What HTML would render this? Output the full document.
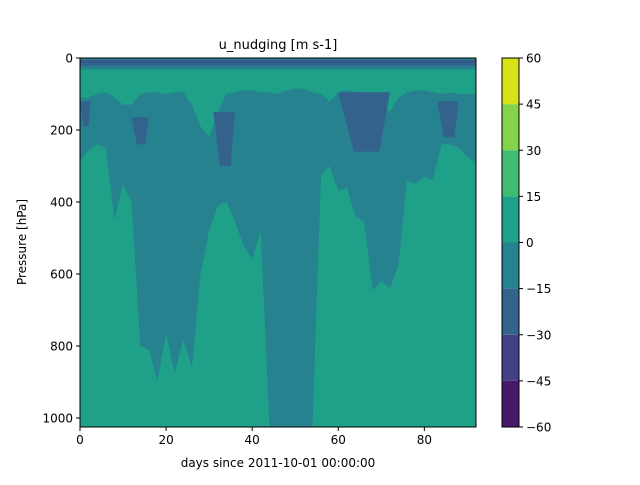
<!DOCTYPE html>
<html><head><meta charset="utf-8"><style>
body{margin:0;background:#fff;}
svg text{font-family:"DejaVu Sans","Liberation Sans",sans-serif;fill:#000;}
</style></head><body>
<svg id="chart" width="640" height="480" viewBox="0 0 640 480" xmlns="http://www.w3.org/2000/svg">
<g id="plot"></g>
<g id="cbar"></g>
<g id="axes"></g>
<text x="278" y="49" font-size="13" text-anchor="middle">u_nudging [m s-1]</text>
<text x="278" y="467" font-size="12" text-anchor="middle">days since 2011-10-01 00:00:00</text>
<text x="0" y="0" font-size="12" text-anchor="middle" transform="translate(26,242) rotate(-90)">Pressure [hPa]</text>
</svg>
<script>
// data arrays
const days = [0,2,4,6,8,10,12,14,16,18,20,22,24,26,28,30,32,34,36,38,40,42,44,46,48,50,52,54,56,58,60,62,64,66,68,70,72,74,76,78,80,82,84,86,88,90,92];
const upperGreenBottom = [110,110,100,95,110,130,130,100,95,95,100,95,95,130,190,220,150,100,95,90,90,95,95,100,90,85,85,95,100,120,95,90,95,95,100,130,150,110,95,90,90,95,100,95,100,100,100];
const tealBottom = [290,255,240,250,450,350,400,800,810,895,765,875,780,860,600,480,410,400,455,520,560,480,1025,1025,1025,1025,1025,1025,325,300,370,360,440,455,645,620,640,575,340,350,330,340,240,240,250,275,290];
// dark (-30..-15) patches: [startDay, endDay, topHpa, bottomHpa]
const darkPatchStart = [0,12,31,60,83];
const darkPatchEnd = [2.5,16,36,72,88];
const darkPatchTop = [120,165,150,95,120];
const darkPatchBottom = [190,240,300,260,220];
const levels = [-60,-45,-30,-15,0,15,30,45,60];
const levelColors = ['#48186a','#424086','#33638d','#26828e','#1fa088','#3fbc73','#84d44b','#d8e219'];
const xTicks = [0,20,40,60,80];
const yTicks = [0,200,400,600,800,1000];

const NS='http://www.w3.org/2000/svg';
const L=80,R=476,T=58,B=427;
const xS=d=>L+(d/92)*(R-L);
const yS=p=>T+(p/1025)*(B-T);
function mk(tag,attrs,parent){const e=document.createElementNS(NS,tag);for(const k in attrs)e.setAttribute(k,attrs[k]);parent.appendChild(e);return e;}
const plot=document.getElementById('plot');
const axes=document.getElementById('axes');
const cbar=document.getElementById('cbar');

let bg=mk('rect',{x:L,y:T,width:R-L,height:B-T,fill:'#1fa088'},plot);



let pts=[];
days.forEach((d,i)=>pts.push(xS(d)+','+yS(upperGreenBottom[i])));
for(let i=days.length-1;i>=0;i--)pts.push(xS(days[i])+','+yS(tealBottom[i]));
let teal=mk('polygon',{points:pts.join(' '),fill:'#26828e'},plot);



for(let i=0;i<darkPatchStart.length;i++){
  const x0=xS(darkPatchStart[i]),x1=xS(darkPatchEnd[i]),y0=yS(darkPatchTop[i]),y1=yS(darkPatchBottom[i]);
  const p=mk('polygon',{points:`${x0},${y0} ${x1},${y0} ${x1-(x1-x0)*0.2},${y1} ${x0+(x1-x0)*0.3},${y1}`,fill:'#33638d'},plot);
  
  
}
// top stratospheric bands
const bandTop=[0,6,13,22];
const bandBot=[6,13,22,32];
const bandCol=['#26828e','#3a4f8a','#33638d','#26828e'];
for(let i=0;i<bandTop.length;i++){
  const r=mk('rect',{x:L,y:yS(bandTop[i]),width:R-L,height:yS(bandBot[i])-yS(bandTop[i]),fill:bandCol[i]},plot);
  
  
}
mk('rect',{x:L,y:T,width:R-L,height:B-T,fill:'none',stroke:'#000','stroke-width':1},axes);

xTicks.forEach(t=>{
  const x=xS(t);
  mk('line',{x1:x,x2:x,y1:B,y2:B+4,stroke:'#000'},axes);
  const tx=mk('text',{x:x,y:B+17,'font-size':12,'text-anchor':'middle'},axes);
  tx.textContent=t;
  
  
});
yTicks.forEach(t=>{
  const y=yS(t);
  mk('line',{x1:L-4,x2:L,y1:y,y2:y,stroke:'#000'},axes);
  const tx=mk('text',{x:L-7,y:y+4.5,'font-size':12,'text-anchor':'end'},axes);
  tx.textContent=t;
  
  
});
// colorbar
const CL=502,CR=519;
const cy=v=>B-(v-levels[0])/(levels[levels.length-1]-levels[0])*(B-T);
for(let i=0;i<levelColors.length;i++){
  const r=mk('rect',{x:CL,y:cy(levels[i+1]),width:CR-CL,height:cy(levels[i])-cy(levels[i+1]),fill:levelColors[i]},cbar);
  
  
}
mk('rect',{x:CL,y:T,width:CR-CL,height:B-T,fill:'none',stroke:'#000'},cbar);
levels.forEach(v=>{
  const y=cy(v);
  mk('line',{x1:CR,x2:CR+4,y1:y,y2:y,stroke:'#000'},cbar);
  const tx=mk('text',{x:CR+7,y:y+4.5,'font-size':12},cbar);
  tx.textContent=v<0?'\u2212'+Math.abs(v):v;
  
  
});
</script>
</body></html>
